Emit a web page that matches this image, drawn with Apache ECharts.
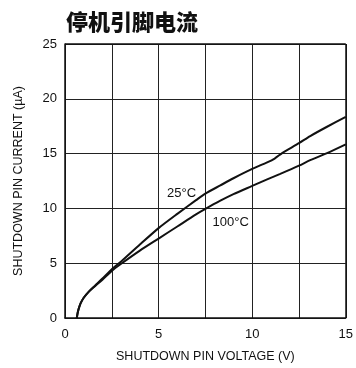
<!DOCTYPE html>
<html><head><meta charset="utf-8">
<script src="https://cdn.jsdelivr.net/npm/echarts@6/dist/echarts.min.js"></script>
<style>html,body{margin:0;padding:0;background:#fff}#c{width:356px;height:368px}</style>
</head><body><div id="c"></div>
<script>
const titleText = '停机引脚电流';
const xName = 'SHUTDOWN PIN VOLTAGE (V)';
const yName = 'SHUTDOWN PIN CURRENT (\u00b5A)';
const xTicks = [0, 5, 10, 15];
const yTicks = [0, 5, 10, 15, 20, 25];
const v25 = [0.63, 0.68, 0.75, 0.85, 1.0, 1.3, 1.6, 2.0, 2.5, 3.0, 4.0, 5.0, 6.0, 7.0, 7.5, 8.3, 9.0, 10.0, 10.8, 11.2, 11.6, 12.0, 12.5, 13.1, 14.0, 15.0];
const i25 = [0, 0.5, 0.95, 1.4, 1.85, 2.45, 2.95, 3.6, 4.45, 5.15, 6.7, 8.2, 9.5, 10.75, 11.35, 12.1, 12.75, 13.6, 14.2, 14.55, 15.05, 15.45, 15.95, 16.6, 17.45, 18.35];
const v100 = [0.63, 0.68, 0.75, 0.85, 1.0, 1.3, 1.6, 2.0, 2.5, 3.0, 4.0, 5.0, 6.0, 7.0, 7.5, 8.3, 9.0, 10.0, 10.8, 11.5, 12.5, 13.1, 14.0, 15.0];
const i100 = [0, 0.5, 0.95, 1.4, 1.85, 2.45, 2.9, 3.5, 4.3, 4.95, 6.15, 7.25, 8.35, 9.45, 9.95, 10.7, 11.3, 12.05, 12.65, 13.15, 13.9, 14.4, 15.05, 15.85];
const seriesNames = ['25°C', '100°C'];
const labelPos = [[6.23, 11.4], [8.85, 8.69]];

const font = '"Liberation Sans", Arial, sans-serif';
const zip = (a, b) => a.map((v, i) => [v, b[i]]);
const chart = echarts.init(document.getElementById('c'), null, {renderer: 'canvas'});
const mkSeries = (name, data, pos) => ({
  name, type: 'line', data, smooth: 0.25, symbol: 'none',
  lineStyle: {color: '#111', width: 2},
  markPoint: {
    symbol: 'circle', symbolSize: 0,
    label: {show: true, formatter: name, color: '#111', fontSize: 13, fontFamily: font, position: 'inside'},
    data: [{coord: pos}]
  }
});
chart.setOption({
  animation: false,
  grid: {left: 65, right: 10, top: 44, bottom: 44},
  graphic: [{type: 'text', left: 66, top: 11, style: {text: titleText, font: '900 22px "Noto Sans CJK SC"', fill: '#111'}}],
  xAxis: {
    type: 'value', min: 0, max: 15, interval: 2.5,
    name: xName, nameLocation: 'middle', nameGap: 32,
    nameTextStyle: {fontSize: 12.5, fontFamily: font, color: '#111'},
    axisLine: {show: true, lineStyle: {color: '#111', width: 1.5}},
    axisTick: {show: false},
    axisLabel: {fontSize: 13, fontFamily: font, color: '#111', margin: 10,
      formatter: v => xTicks.includes(v) ? String(v) : ''},
    splitLine: {show: true, lineStyle: {color: '#222', width: 1}}
  },
  yAxis: {
    type: 'value', min: 0, max: 25, interval: 5,
    name: yName, nameLocation: 'middle', nameGap: 40,
    nameTextStyle: {fontSize: 12.5, fontFamily: font, color: '#111'},
    axisLine: {show: true, lineStyle: {color: '#111', width: 1.5}},
    axisTick: {show: false},
    axisLabel: {fontSize: 13, fontFamily: font, color: '#111', margin: 8,
      formatter: v => yTicks.includes(v) ? String(v) : ''},
    splitLine: {show: true, lineStyle: {color: '#222', width: 1}}
  },
  series: [mkSeries(seriesNames[0], zip(v25, i25), labelPos[0]), mkSeries(seriesNames[1], zip(v100, i100), labelPos[1]),
    {type: 'line', data: [], markLine: {silent: true, symbol: 'none', label: {show: false}, lineStyle: {color: '#111', width: 1.5, type: 'solid'},
      data: [[{coord: [0, 25]}, {coord: [15, 25]}], [{coord: [15, 0]}, {coord: [15, 25]}]]}}]
});
</script></body></html>
